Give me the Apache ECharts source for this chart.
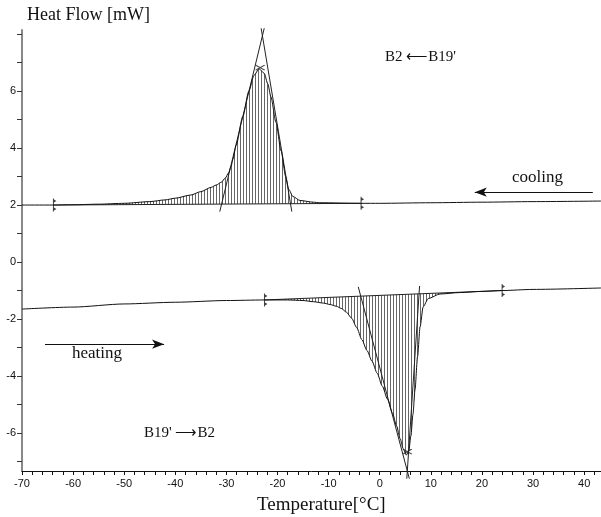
<!DOCTYPE html>
<html>
<head>
<meta charset="utf-8">
<script src="https://cdn.jsdelivr.net/npm/echarts@6/dist/echarts.min.js"></script>
<style>
html,body{margin:0;padding:0;background:#fff}
#main{width:601px;height:517px}
</style>
</head>
<body>
<div id="main"></div>
<script>
var myChart = echarts.init(document.getElementById('main'));

// cooling run (upper curve)
var coolT  = [-70,-64,-60,-55,-50,-45,-42,-40,-37,-35,-33,-32,-31,-30.2,-29.6,-29.1,-28.7,-28.1,-26.8,-25.6,-24.6,-23.6,-22.6,-21.9,-21.3,-20.3,-19.3,-18.4,-17.8,-17,-15.6,-13,-11.7,-3.7,0,10,20,30,43.3];
var coolHF = [2.0,2.0,2.01,2.03,2.06,2.12,2.18,2.24,2.35,2.47,2.62,2.7,2.8,2.95,3.12,3.35,3.62,4.1,5.1,6.0,6.55,6.78,6.62,6.25,5.8,4.9,3.9,3.0,2.55,2.3,2.16,2.1,2.08,2.06,2.06,2.08,2.1,2.12,2.14];

// heating run (lower curve)
var heatT  = [-70,-60,-50,-40,-30,-22.6,-18,-15,-13,-11,-9.7,-8.5,-7.5,-6.5,-5.5,-4.5,-3.5,-2.5,-1.5,-0.5,0.5,1.5,2.5,3.3,4,4.6,5.2,5.7,6.1,6.5,6.9,7.4,7.9,8.5,9.5,11.8,15.7,20,23.9,30,43.3];
var heatHF = [-1.65,-1.58,-1.47,-1.41,-1.35,-1.33,-1.33,-1.35,-1.39,-1.44,-1.49,-1.55,-1.63,-1.76,-1.97,-2.3,-2.72,-3.1,-3.48,-3.9,-4.35,-4.8,-5.3,-5.75,-6.2,-6.55,-6.77,-6.62,-6.1,-5.35,-4.49,-3.32,-2.27,-1.57,-1.28,-1.12,-1.07,-1.03,-1.0,-0.96,-0.91];

// integration limits (baseline end points)
var coolBase = [[-63.9,2.0],[-3.7,2.06]];
var heatBase = [[-22.6,-1.33],[23.9,-1.0]];

// onset tangents
var coolTanL = [[-31.3,1.77],[-22.6,8.2]];
var coolTanR = [[-23.2,8.2],[-17.2,1.77]];
var heatTanL = [[-4.2,-0.87],[5.8,-7.6]];
var heatTanR = [[7.8,-0.84],[5.3,-7.6]];

// peak marks
var peaks = [[-23.4,6.82],[5.4,-6.65]];

// direction arrows
var coolArrow = [[41.7,2.45],[18.6,2.45]];
var heatArrow = [[-65.5,-2.88],[-42.2,-2.88]];

// ticks
var xTicks = [];
for (var t = -70; t <= 42; t += 2) xTicks.push(t);
var xLabels = [-70,-60,-50,-40,-30,-20,-10,0,10,20,30,40];
var yTicks = [-7,-6,-5,-4,-3,-2,-1,0,1,2,3,4,5,6,7,8];
var yLabels = [-6,-4,-2,0,2,4,6];

function pairs(a, b) {
  var out = [];
  for (var i = 0; i < a.length; i++) out.push([a[i], b[i]]);
  return out;
}

// vertical hatch pattern
var stripe = document.createElement('canvas');
stripe.width = 3; stripe.height = 1;
var sctx = stripe.getContext('2d');
sctx.fillStyle = '#666';
sctx.fillRect(0, 0, 1, 1);

function hatch(T, HF, base) {
  return {
    type: 'custom',
    silent: true,
    z: 1,
    data: [[base[0][0], base[0][1]]],
    renderItem: function (params, api) {
      var pts = [api.coord(base[0])];
      for (var i = 0; i < T.length; i++) {
        if (T[i] > base[0][0] && T[i] < base[1][0]) pts.push(api.coord([T[i], HF[i]]));
      }
      pts.push(api.coord(base[1]));
      return {
        type: 'polygon',
        shape: { points: pts },
        style: { fill: { image: stripe, repeat: 'repeat' }, stroke: null }
      };
    }
  };
}

function seg(data) {
  return {
    type: 'line', data: data, symbol: 'none', clip: false, silent: true, z: 3,
    lineStyle: { color: '#222', width: 1 }
  };
}

var flag = 'path://M0,0L1,0L1,13L0,13Z M1,1L3.5,2.5L1,4Z M1,9L3.5,10.5L1,12Z';
var cross = 'path://M0,0L10,5M0,5L10,0';

var serif = "'Liberation Serif','Times New Roman',serif";

var option = {
  animation: false,
  backgroundColor: '#fff',
  grid: { left: 22, right: 0, top: 30, bottom: 46, containLabel: false },
  xAxis: {
    type: 'value', min: -70, max: 43.3,
    axisLine: { onZero: false, lineStyle: { color: '#111', width: 1 } },
    axisTick: { length: 4, lineStyle: { color: '#111' }, customValues: xTicks },
    axisLabel: { customValues: xLabels, color: '#111', fontSize: 11, fontFamily: 'Liberation Sans', margin: 7 },
    splitLine: { show: false }
  },
  yAxis: {
    type: 'value', min: -7.33, max: 8.14,
    axisLine: { show: true, onZero: false, lineStyle: { color: '#888', width: 2 } },
    axisTick: { show: true, length: 5, lineStyle: { color: '#333' }, customValues: yTicks },
    axisLabel: { customValues: yLabels, color: '#111', fontSize: 11, fontFamily: 'Liberation Sans', margin: 6 },
    splitLine: { show: false }
  },
  graphic: [
    { type: 'text', left: 27, top: 6, style: { text: 'Heat Flow [mW]', font: '18px ' + serif, fill: '#111' } },
    { type: 'text', left: 257, top: 496, style: { text: 'Temperature[°C]', font: '19px ' + serif, fill: '#111' } },
    { type: 'text', left: 385, top: 50, style: { text: "B2 \u27F5B19'", font: '15px ' + serif, fill: '#111' } },
    { type: 'text', left: 512, top: 169, style: { text: 'cooling', font: '17px ' + serif, fill: '#111' } },
    { type: 'text', left: 72, top: 345, style: { text: 'heating', font: '17px ' + serif, fill: '#111' } },
    { type: 'text', left: 144, top: 426, style: { text: "B19' \u27F6B2", font: '15px ' + serif, fill: '#111' } }
  ],
  series: [
    hatch(coolT, coolHF, coolBase),
    hatch(heatT, heatHF, heatBase),
    {
      name: 'cooling', type: 'line', data: pairs(coolT, coolHF), symbol: 'none',
      smooth: 0.25, smoothMonotone: 'x', z: 4,
      lineStyle: { color: '#111', width: 1 },
      markLine: {
        silent: true, symbol: ['none', 'arrow'], symbolSize: [7, 12],
        label: { show: false },
        lineStyle: { color: '#111', width: 1, type: 'solid' },
        data: [[{ coord: coolArrow[0] }, { coord: coolArrow[1] }]]
      }
    },
    {
      name: 'heating', type: 'line', data: pairs(heatT, heatHF), symbol: 'none',
      smooth: 0.25, smoothMonotone: 'x', z: 4,
      lineStyle: { color: '#111', width: 1 },
      markLine: {
        silent: true, symbol: ['none', 'arrow'], symbolSize: [7, 12],
        label: { show: false },
        lineStyle: { color: '#111', width: 1, type: 'solid' },
        data: [[{ coord: heatArrow[0] }, { coord: heatArrow[1] }]]
      }
    },
    seg(coolBase), seg(heatBase),
    seg(coolTanL), seg(coolTanR), seg(heatTanL), seg(heatTanR),
    {
      type: 'scatter', data: coolBase.concat(heatBase), symbol: flag, symbolSize: [3.5, 13],
      symbolOffset: [1.5, 0], z: 5, silent: true, itemStyle: { color: '#111' }
    },
    {
      type: 'scatter', data: peaks, symbol: cross, symbolSize: [9, 5], z: 5, silent: true,
      itemStyle: { color: 'none', borderColor: '#222', borderWidth: 1 }
    }
  ]
};

myChart.setOption(option);
</script>
</body>
</html>
